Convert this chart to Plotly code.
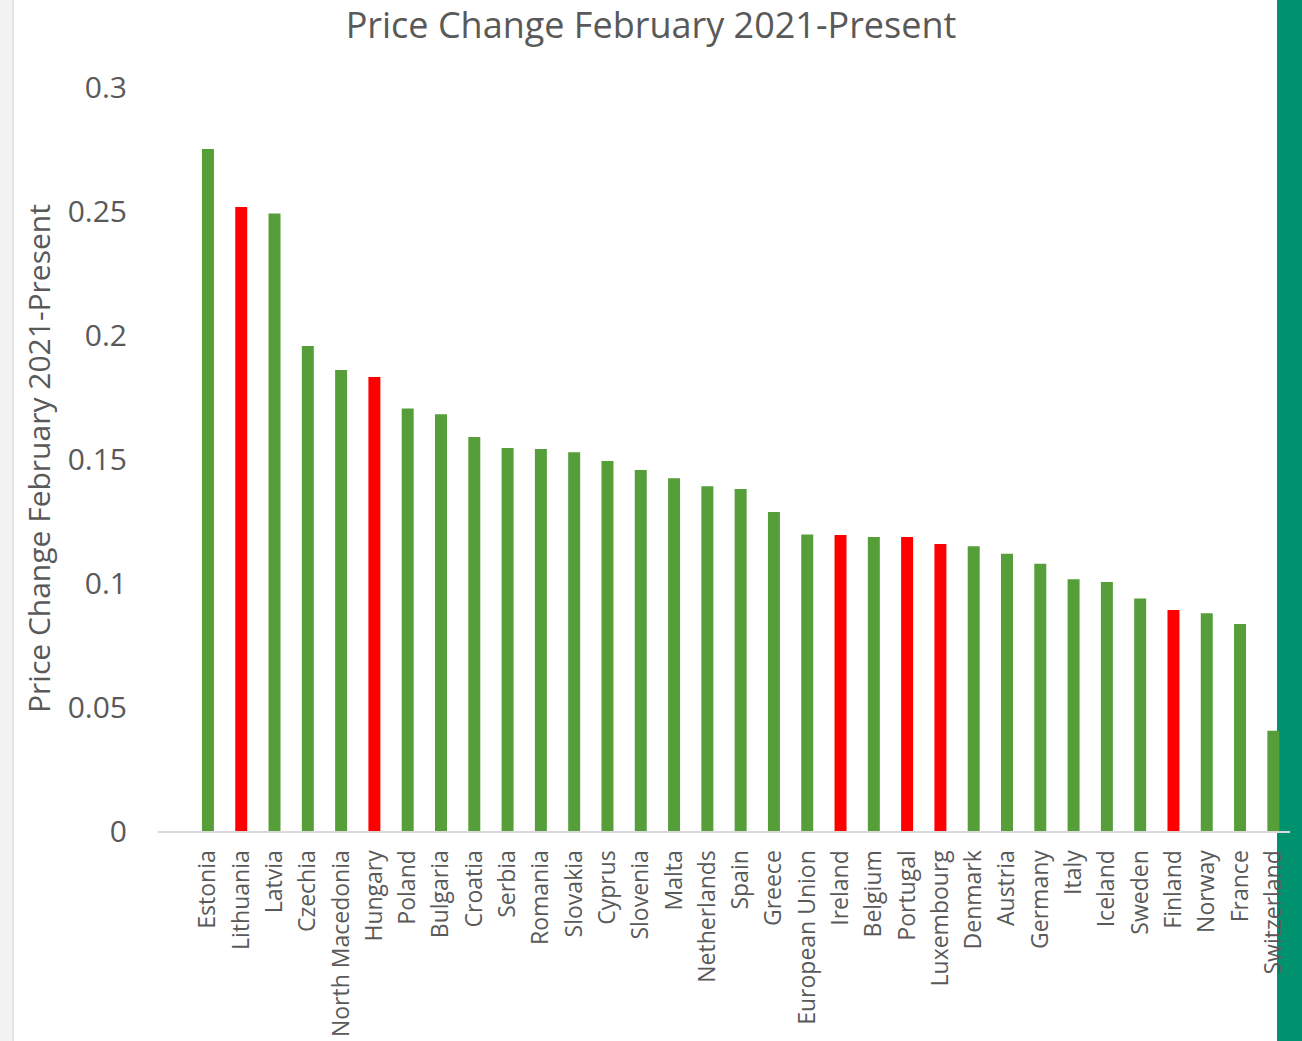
import plotly.graph_objects as go

# Price change by country, Feb 2021 to present
countries = [
    "Estonia", "Lithuania", "Latvia", "Czechia", "North Macedonia", "Hungary",
    "Poland", "Bulgaria", "Croatia", "Serbia", "Romania", "Slovakia", "Cyprus",
    "Slovenia", "Malta", "Netherlands", "Spain", "Greece", "European Union",
    "Ireland", "Belgium", "Portugal", "Luxembourg", "Denmark", "Austria",
    "Germany", "Italy", "Iceland", "Sweden", "Finland", "Norway", "France",
    "Switzerland",
]
price_change = [
    0.275, 0.2516, 0.249, 0.1956, 0.1859, 0.1831,
    0.1704, 0.168, 0.1589, 0.1544, 0.154, 0.1527, 0.1492,
    0.1456, 0.1422, 0.139, 0.1379, 0.1286, 0.1196,
    0.1194, 0.1185, 0.1185, 0.1157, 0.1148, 0.1118,
    0.1078, 0.1015, 0.1004, 0.0938, 0.0891, 0.0878, 0.0835,
    0.0404,
]
highlighted = ["Lithuania", "Hungary", "Ireland", "Portugal", "Luxembourg", "Finland"]

GREEN = "#559E3A"
RED = "#FF0000"
TEXT = "#595959"
FONT = "Open Sans"

W, H = 1302, 1041
L, R, T, B = 158, 12, 87, 210
PW, PH = W - L - R, H - T - B


def px_x(p):
    # page pixel -> paper x
    return (p - L) / PW


def px_y(p):
    # page pixel (from top) -> paper y
    return (H - B - p) / PH


colors = [RED if c in highlighted else GREEN for c in countries]

fig = go.Figure()
fig.add_trace(go.Bar(
    x=countries,
    y=price_change,
    marker=dict(color=colors, line=dict(width=0)),
    width=0.36,
))

# page decorations: grey shadow on the left, teal strip on the right
fig.add_shape(type="rect", xref="paper", yref="paper",
              x0=px_x(0), x1=px_x(12), y0=px_y(H), y1=px_y(0),
              fillcolor="#F2F2F2", line_width=0, layer="below")
fig.add_shape(type="line", xref="paper", yref="paper",
              x0=px_x(13), x1=px_x(13), y0=px_y(H), y1=px_y(0),
              line=dict(color="#E4E4E4", width=2), layer="below")
fig.add_shape(type="rect", xref="paper", yref="paper",
              x0=px_x(1277), x1=px_x(W), y0=px_y(H), y1=px_y(0),
              fillcolor="#00916F", line_width=0, layer="below")

fig.add_annotation(
    text="Price Change February 2021-Present",
    xref="paper", yref="paper",
    x=px_x(38), y=0.5,
    textangle=-90, showarrow=False,
    font=dict(family=FONT, size=30, color=TEXT),
    xanchor="center", yanchor="middle",
)

fig.update_layout(
    width=W, height=H,
    margin=dict(l=L, r=R, t=T, b=B, autoexpand=False),
    paper_bgcolor="white",
    plot_bgcolor="rgba(0,0,0,0)",
    showlegend=False,
    title=dict(
        text="Price Change February 2021-Present",
        x=0.5, xanchor="center",
        y=1 - 25 / H, yref="container", yanchor="middle",
        font=dict(family=FONT, size=36, color=TEXT),
    ),
    xaxis=dict(
        type="category",
        range=[-1.5, 32.5],
        showgrid=False, zeroline=False,
        showline=True, linecolor="#D9D9D9", linewidth=2,
        ticks="", tickangle=-90,
        ticklabelstandoff=8,
        tickfont=dict(family=FONT, size=23, color=TEXT),
    ),
    yaxis=dict(
        range=[0, 0.3],
        tickvals=[0, 0.05, 0.1, 0.15, 0.2, 0.25, 0.3],
        ticktext=["0", "0.05", "0.1", "0.15", "0.2", "0.25", "0.3"],
        showgrid=False, zeroline=False, showline=False,
        ticks="", ticklabelstandoff=30,
        tickfont=dict(family=FONT, size=30, color=TEXT),
    ),
)

# drop the browser's default body margin so the figure sits at the page corner
fig.write_html("out.html", config={"displayModeBar": False},
               post_script="document.body.style.margin='0';")
